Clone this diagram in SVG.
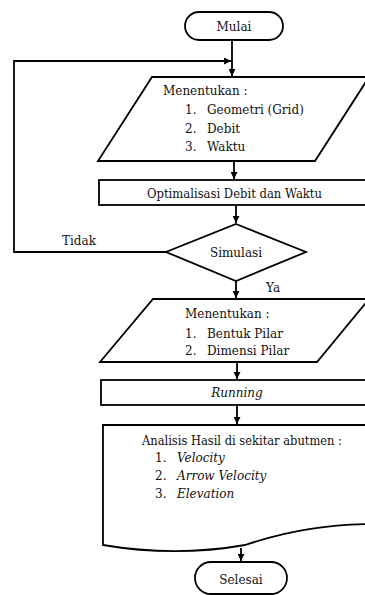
<svg xmlns="http://www.w3.org/2000/svg" width="365" height="595" viewBox="0 0 365 595">
<defs>
<marker id="ah" viewBox="0 0 10 10" refX="10" refY="5" markerWidth="7" markerHeight="7" markerUnits="userSpaceOnUse" orient="auto">
<path d="M0,0 L10,5 L0,10 Z" fill="#000"/>
</marker>
</defs>
<style>
.s{fill:#fff;stroke:#000;stroke-width:1.8}
.c{fill:none;stroke:#000;stroke-width:1.8}
text{font-family:"DejaVu Serif","Liberation Serif",serif;font-size:12px;fill:#111}
.i{font-style:italic}
.m{text-anchor:middle}
</style>
<rect width="365" height="595" fill="#fff"/>
<g id="connectors">
<path class="c" d="M232,40 V76" marker-end="url(#ah)"/>
<path class="c" d="M166,252 H14 V61 H231" marker-end="url(#ah)"/>
<path class="c" d="M234,161 V179" marker-end="url(#ah)"/>
<path class="c" d="M236,205 V223" marker-end="url(#ah)"/>
<path class="c" d="M236,281 V298" marker-end="url(#ah)"/>
<path class="c" d="M237,362 V379" marker-end="url(#ah)"/>
<path class="c" d="M237,405 V424" marker-end="url(#ah)"/>
<path class="c" d="M241,548 V561" marker-end="url(#ah)"/>
<text x="62" y="245">Tidak</text>
<text x="266" y="292">Ya</text>
</g>
<g id="mulai">
<rect class="s" x="185" y="12" width="98" height="28" rx="14"/>
<text class="m" x="234" y="31">Mulai</text>
</g>
<g id="input1">
<path class="s" d="M152,77 L369,77 L315,161 L98,161 Z"/>
<text x="163" y="95">Menentukan :</text>
<text x="185" y="114">1.</text><text x="207" y="114">Geometri (Grid)</text>
<text x="185" y="133">2.</text><text x="207" y="133">Debit</text>
<text x="185" y="151">3.</text><text x="207" y="151">Waktu</text>
</g>
<g id="optimalisasi">
<rect class="s" x="99" y="180" width="280" height="25"/>
<text x="147" y="198" textLength="175" lengthAdjust="spacingAndGlyphs">Optimalisasi Debit dan Waktu</text>
</g>
<g id="simulasi">
<path class="s" d="M236,224 L306,252 L236,281 L166,252 Z"/>
<text class="m" x="236" y="257">Simulasi</text>
</g>
<g id="input2">
<path class="s" d="M153,299 L369,299 L317,362 L100,362 Z"/>
<text x="185" y="318">Menentukan :</text>
<text x="185" y="338">1.</text><text x="207" y="338">Bentuk Pilar</text>
<text x="185" y="355">2.</text><text x="207" y="355">Dimensi Pilar</text>
</g>
<g id="running">
<rect class="s" x="101" y="380" width="280" height="25"/>
<text class="i m" x="237" y="397">Running</text>
</g>
<g id="analisis">
<path class="s" d="M103,425 H380 V524 C330,524 290,530 245,545 C200,553 150,553 103,545 Z"/>
<text x="142" y="445" textLength="200" lengthAdjust="spacingAndGlyphs">Analisis Hasil di sekitar abutmen :</text>
<text x="155" y="462">1.</text><text class="i" x="177" y="462">Velocity</text>
<text x="155" y="480">2.</text><text class="i" x="177" y="480">Arrow Velocity</text>
<text x="155" y="498">3.</text><text class="i" x="177" y="498">Elevation</text>
</g>
<g id="selesai">
<rect class="s" x="195" y="562" width="92" height="32" rx="16"/>
<text class="m" x="241" y="584">Selesai</text>
</g>
</svg>
